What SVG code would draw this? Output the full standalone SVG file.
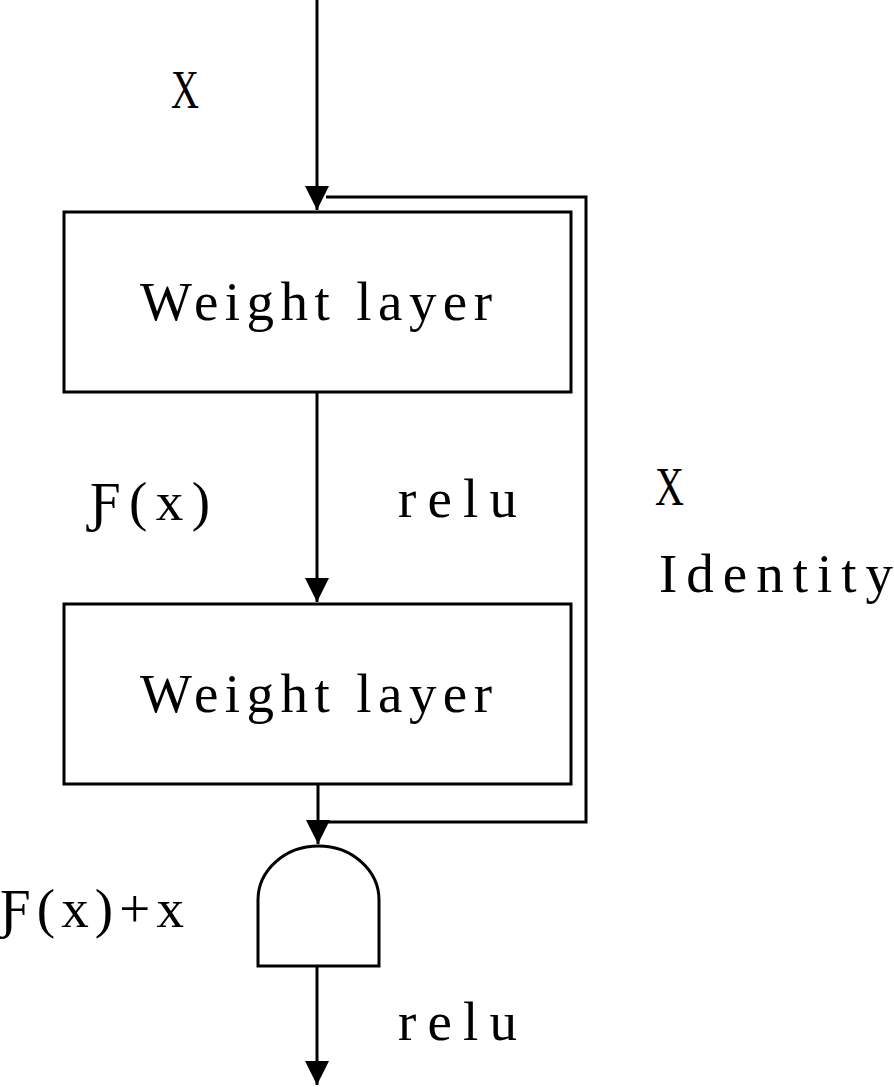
<svg xmlns="http://www.w3.org/2000/svg" width="894" height="1087" viewBox="0 0 894 1087">
<style>
.box{fill:#fff;stroke:#000;stroke-width:3}
.ln{fill:none;stroke:#000;stroke-width:3}
.t{font-family:"Liberation Serif","Times New Roman",serif;font-size:55px;fill:#000}
</style>
<defs>
<marker id="ah" markerUnits="userSpaceOnUse" markerWidth="24" markerHeight="26" viewBox="0 0 24 26" refX="24" refY="12" orient="auto">
<path d="M0,0 L24,12 L0,24 Z" fill="#000"/>
</marker>
</defs>
<g id="connectors">
<path class="ln" d="M317,0 V210" marker-end="url(#ah)"/>
<path class="ln" d="M326,197 H586 V822 H326"/>
<path class="ln" d="M317,392 V602" marker-end="url(#ah)"/>
<path class="ln" d="M318,784 V844" marker-end="url(#ah)"/>
<path class="ln" d="M317,966 V1085" marker-end="url(#ah)"/>
</g>
<g id="weight1">
<rect class="box" x="64" y="212" width="507" height="180"/>
<text class="t" x="140" y="320" textLength="352" lengthAdjust="spacing">Weight layer</text>
</g>
<g id="weight2">
<rect class="box" x="64" y="604" width="507" height="180"/>
<text class="t" x="140" y="712" textLength="352" lengthAdjust="spacing">Weight layer</text>
</g>
<g id="add">
<path class="box" d="M258,966 V900 A60.5,54 0 0 1 379,900 V966 Z"/>
</g>
<g id="labels">
<text class="t" x="171" y="108" textLength="28" lengthAdjust="spacingAndGlyphs">X</text>
<text class="t" x="90" y="520" textLength="120" lengthAdjust="spacing">Ƒ(x)</text>
<text class="t" x="398" y="517" textLength="119" lengthAdjust="spacing">relu</text>
<text class="t" x="655" y="505" textLength="29" lengthAdjust="spacingAndGlyphs">X</text>
<text class="t" x="659" y="592" textLength="234" lengthAdjust="spacing">Identity</text>
<text class="t" x="0" y="927" textLength="184" lengthAdjust="spacing">Ƒ(x)+x</text>
<text class="t" x="398" y="1040" textLength="119" lengthAdjust="spacing">relu</text>
</g>
</svg>
